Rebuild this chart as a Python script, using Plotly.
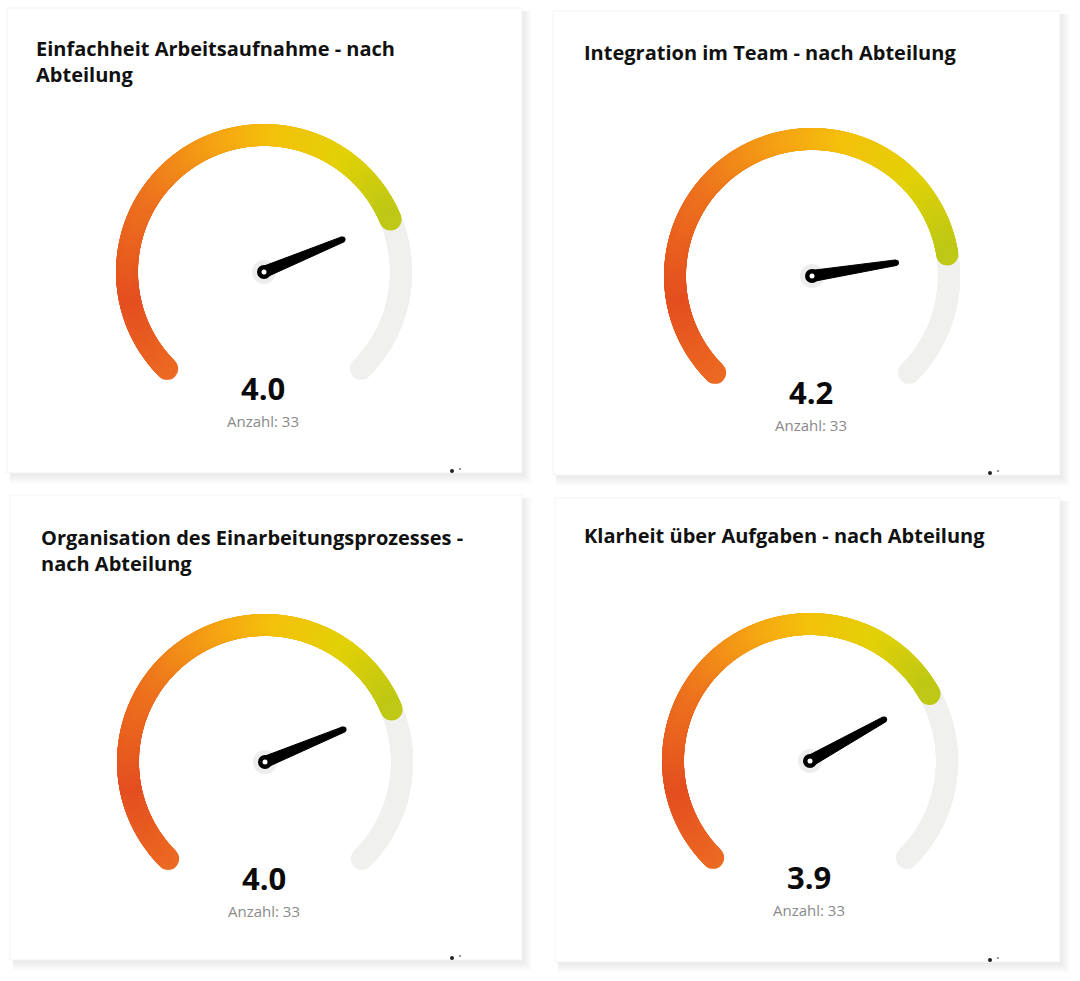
import numpy as np
import plotly.graph_objects as go

# ---------------- data ----------------
titles = [
    "Einfachheit Arbeitsaufnahme - nach<br>Abteilung",
    "Integration im Team - nach Abteilung",
    "Organisation des Einarbeitungsprozesses -<br>nach Abteilung",
    "Klarheit über Aufgaben - nach Abteilung",
]
values = [4.0, 4.2, 4.0, 3.9]
counts = [33, 33, 33, 33]
scale_min = 1
scale_max = 5
count_label = "Anzahl"

# ---------------- layout (pixel space) ----------------
W, H = 1080, 981
cards = [(7, 8, 522, 473), (553, 11, 1060, 475), (10, 495, 522, 960), (555, 498, 1060, 962)]
centers = [(264, 272), (812, 276), (265, 762), (810, 761)]
title_pos = [(34, 33), (582, 37), (39, 522), (582, 520)]
R = 137
ARC_W = 22
START_DEG = 225.0
SWEEP = 270.0
NEEDLE_LEN = 85

grad_scale = [
    [0.00, "#EC6B23"],
    [0.18, "#E44F20"],
    [0.40, "#ED731E"],
    [0.58, "#F5A314"],
    [0.70, "#F4C10C"],
    [0.85, "#E2D107"],
    [1.00, "#BEC815"],
]

fig = go.Figure()
shapes = []
annotations = []

for i, (x0, y0, x1, y1) in enumerate(cards):
    # soft shadow
    for k in range(1, 12):
        shapes.append(dict(type="rect", xref="x", yref="y",
                           x0=x0 + 3, y0=y0 + 3, x1=x1 + k * 0.9, y1=y1 + k * 1.0,
                           fillcolor="rgba(0,0,0,0.008)", line=dict(width=0), layer="below"))
    shapes.append(dict(type="rect", xref="x", yref="y", x0=x0, y0=y0, x1=x1, y1=y1,
                       fillcolor="white", line=dict(color="#f3f3f3", width=1), layer="below"))

for i in range(4):
    cx, cy = centers[i]
    frac = (values[i] - scale_min) / (scale_max - scale_min)

    # background track
    n_all = 700
    ang = np.radians(START_DEG - SWEEP * np.linspace(0, 1, n_all))
    fig.add_trace(go.Scatter(x=cx + R * np.cos(ang), y=cy - R * np.sin(ang), mode="markers",
                             marker=dict(size=ARC_W, color="#F0F0EE", line=dict(width=0)),
                             hoverinfo="skip", showlegend=False))
    # filled gradient arc
    n_f = int(700 * frac) + 2
    t = np.linspace(0, 1, n_f)
    angf = np.radians(START_DEG - SWEEP * frac * t)
    fig.add_trace(go.Scatter(x=cx + R * np.cos(angf), y=cy - R * np.sin(angf), mode="markers",
                             marker=dict(size=ARC_W, color=t, colorscale=grad_scale, cmin=0, cmax=1,
                                         line=dict(width=0)),
                             hoverinfo="skip", showlegend=False))

    # needle
    th = np.radians(START_DEG - SWEEP * frac)
    ux, uy = np.cos(th), -np.sin(th)
    nx, ny = -uy, ux
    tx, ty = cx + NEEDLE_LEN * ux, cy + NEEDLE_LEN * uy
    wb, wt = 5.6, 2.8
    px = [cx + nx * wb, tx + nx * wt, tx - nx * wt, cx - nx * wb, cx + nx * wb]
    py = [cy + ny * wb, ty + ny * wt, ty - ny * wt, cy - ny * wb, cy + ny * wb]
    # hub halo
    fig.add_trace(go.Scatter(x=[cx], y=[cy], mode="markers",
                             marker=dict(size=24, color="rgba(0,0,0,0.07)", line=dict(width=0)),
                             hoverinfo="skip", showlegend=False))
    fig.add_trace(go.Scatter(x=px, y=py, mode="lines", fill="toself", fillcolor="black",
                             line=dict(color="black", width=1), hoverinfo="skip", showlegend=False))
    fig.add_trace(go.Scatter(x=[tx], y=[ty], mode="markers",
                             marker=dict(size=6, color="black", line=dict(width=0)),
                             hoverinfo="skip", showlegend=False))
    fig.add_trace(go.Scatter(x=[cx], y=[cy], mode="markers",
                             marker=dict(size=14, color="black", line=dict(width=0)),
                             hoverinfo="skip", showlegend=False))
    fig.add_trace(go.Scatter(x=[cx], y=[cy], mode="markers",
                             marker=dict(size=5, color="white", line=dict(width=0)),
                             hoverinfo="skip", showlegend=False))

    # texts
    tx0, ty0 = title_pos[i]
    annotations.append(dict(x=tx0, y=ty0, xref="x", yref="y", xanchor="left", yanchor="top",
                            text="<b>" + titles[i] + "</b>", showarrow=False, align="left",
                            font=dict(family="Open Sans", size=20, color="#111111")))
    annotations.append(dict(x=cx - 1, y=cy + 116, xref="x", yref="y", xanchor="center", yanchor="middle",
                            text="<b>%.1f</b>" % values[i], showarrow=False, borderpad=0,
                            font=dict(family="Open Sans", size=31, color="#0a0a0a")))
    annotations.append(dict(x=cx - 1, y=cy + 148.5, xref="x", yref="y", xanchor="center", yanchor="middle",
                            text="%s: %d" % (count_label, counts[i]), showarrow=False, borderpad=0,
                            font=dict(family="Open Sans", size=15, color="#8a8a8a")))

    # tiny cropped legend marks near the card bottom-right
    x0, y0, x1, y1 = cards[i]
    shapes.append(dict(type="circle", xref="x", yref="y", x0=x1 - 72, y0=y1 - 4, x1=x1 - 68, y1=y1,
                       fillcolor="#222222", line=dict(width=0)))
    shapes.append(dict(type="circle", xref="x", yref="y", x0=x1 - 63, y0=y1 - 5, x1=x1 - 61, y1=y1 - 3,
                       fillcolor="#777777", line=dict(width=0)))

fig.update_layout(
    width=W, height=H, margin=dict(l=0, r=0, t=0, b=0),
    paper_bgcolor="white", plot_bgcolor="white",
    xaxis=dict(range=[0, W], visible=False, fixedrange=True),
    yaxis=dict(range=[H, 0], visible=False, fixedrange=True),
    shapes=shapes, annotations=annotations, showlegend=False,
)

fig.write_html("out.html", config={"displayModeBar": False})
